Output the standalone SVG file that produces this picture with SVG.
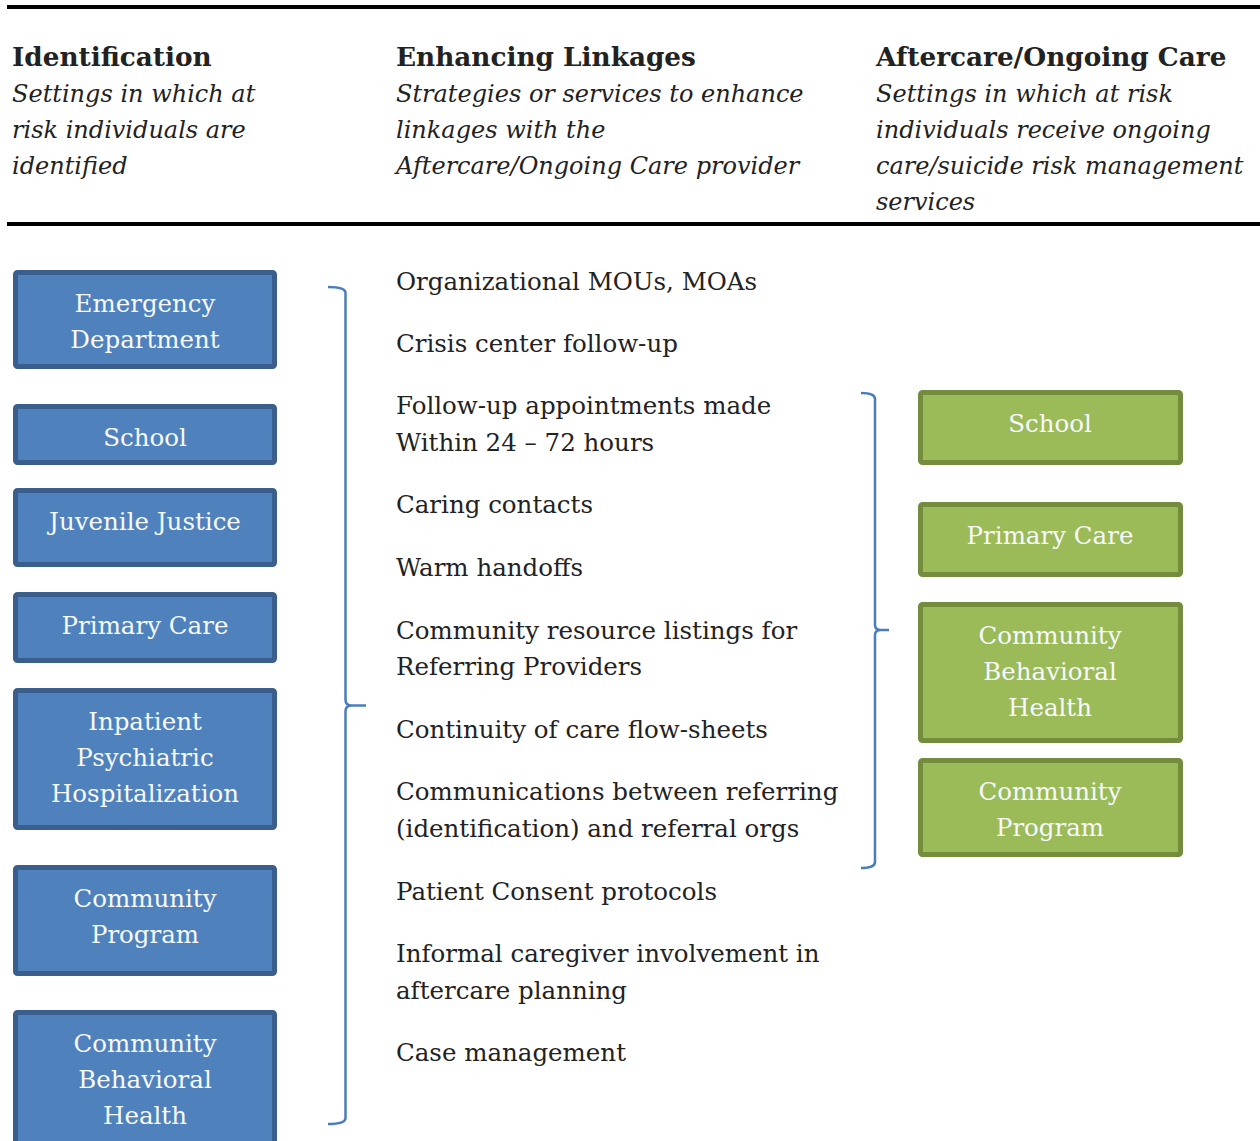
<svg xmlns="http://www.w3.org/2000/svg" width="1260" height="1141" viewBox="0 0 1260 1141">
<style>
text{font-family:"DejaVu Serif","Liberation Serif",serif;}
.h{font-size:26.3px;font-weight:bold;fill:#222;}
.i{font-size:24px;font-style:italic;fill:#222;}
.b{font-size:24.5px;fill:#222;}
.n{font-size:24.5px;fill:#f7f9fc;text-anchor:middle;}
.blue{fill:#4f81bd;stroke:#3a5f8c;stroke-width:5;}
.green{fill:#9bbb59;stroke:#748c3e;stroke-width:5;}
.br{fill:none;stroke:#4a7ebb;stroke-width:2.5;}
</style>
<rect x="7" y="5" width="1253" height="4" fill="#000"/>
<rect x="7" y="222" width="1253" height="4" fill="#000"/>
<g id="headers">
<text class="h" x="12" y="66">Identification</text>
<text class="i" x="12" y="102">Settings in which at</text>
<text class="i" x="12" y="138">risk individuals are</text>
<text class="i" x="12" y="174">identified</text>
<text class="h" x="396" y="66">Enhancing Linkages</text>
<text class="i" x="396" y="102">Strategies or services to enhance</text>
<text class="i" x="396" y="138">linkages with the</text>
<text class="i" x="396" y="174">Aftercare/Ongoing Care provider</text>
<text class="h" x="876" y="66">Aftercare/Ongoing Care</text>
<text class="i" x="876" y="102">Settings in which at risk</text>
<text class="i" x="876" y="138">individuals receive ongoing</text>
<text class="i" x="876" y="174">care/suicide risk management</text>
<text class="i" x="876" y="210">services</text>
</g>
<g id="linkages">
<text class="b" x="396" y="290">Organizational MOUs, MOAs</text>
<text class="b" x="396" y="352">Crisis center follow-up</text>
<text class="b" x="396" y="414">Follow-up appointments made</text>
<text class="b" x="396" y="451">Within 24 – 72 hours</text>
<text class="b" x="396" y="513">Caring contacts</text>
<text class="b" x="396" y="576">Warm handoffs</text>
<text class="b" x="396" y="639">Community resource listings for</text>
<text class="b" x="396" y="675">Referring Providers</text>
<text class="b" x="396" y="738">Continuity of care flow-sheets</text>
<text class="b" x="396" y="800">Communications between referring</text>
<text class="b" x="396" y="837">(identification) and referral orgs</text>
<text class="b" x="396" y="900">Patient Consent protocols</text>
<text class="b" x="396" y="962">Informal caregiver involvement in</text>
<text class="b" x="396" y="999">aftercare planning</text>
<text class="b" x="396" y="1061">Case management</text>
</g>
<g id="id-emergency"><rect class="blue" x="15.5" y="272.5" width="259" height="94" rx="2"/><text class="n" x="145" y="312">Emergency</text><text class="n" x="145" y="348">Department</text></g>
<g id="id-school"><rect class="blue" x="15.5" y="406.5" width="259" height="56" rx="2"/><text class="n" x="145" y="446">School</text></g>
<g id="id-juvenile"><rect class="blue" x="15.5" y="490.5" width="259" height="74" rx="2"/><text class="n" x="145" y="530">Juvenile Justice</text></g>
<g id="id-primary"><rect class="blue" x="15.5" y="594.5" width="259" height="66" rx="2"/><text class="n" x="145" y="634">Primary Care</text></g>
<g id="id-inpatient"><rect class="blue" x="15.5" y="690.5" width="259" height="137" rx="2"/><text class="n" x="145" y="730">Inpatient</text><text class="n" x="145" y="766">Psychiatric</text><text class="n" x="145" y="802">Hospitalization</text></g>
<g id="id-community-program"><rect class="blue" x="15.5" y="867.5" width="259" height="106" rx="2"/><text class="n" x="145" y="907">Community</text><text class="n" x="145" y="943">Program</text></g>
<g id="id-cbh"><rect class="blue" x="15.5" y="1012.5" width="259" height="140" rx="2"/><text class="n" x="145" y="1052">Community</text><text class="n" x="145" y="1088">Behavioral</text><text class="n" x="145" y="1124">Health</text></g>
<g id="ac-school"><rect class="green" x="920.5" y="392.5" width="260" height="70" rx="2"/><text class="n" x="1050" y="432">School</text></g>
<g id="ac-primary"><rect class="green" x="920.5" y="504.5" width="260" height="70" rx="2"/><text class="n" x="1050" y="544">Primary Care</text></g>
<g id="ac-cbh"><rect class="green" x="920.5" y="604.5" width="260" height="136" rx="2"/><text class="n" x="1050" y="644">Community</text><text class="n" x="1050" y="680">Behavioral</text><text class="n" x="1050" y="716">Health</text></g>
<g id="ac-community-program"><rect class="green" x="920.5" y="760.5" width="260" height="94" rx="2"/><text class="n" x="1050" y="800">Community</text><text class="n" x="1050" y="836">Program</text></g>
<g id="connectors">
<path class="br" d="M328,287 Q345.5,287 345.5,293 L345.5,700 Q345.5,705.5 352,705.5 L366,705.5 M352,705.5 Q345.5,705.5 345.5,711 L345.5,1118 Q345.5,1124 328,1124"/>
<path class="br" d="M861,393 Q875,393 875,399 L875,625 Q875,630 881,630 L889,630 M881,630 Q875,630 875,635 L875,862 Q875,868 861,868"/>
</g>
</svg>
